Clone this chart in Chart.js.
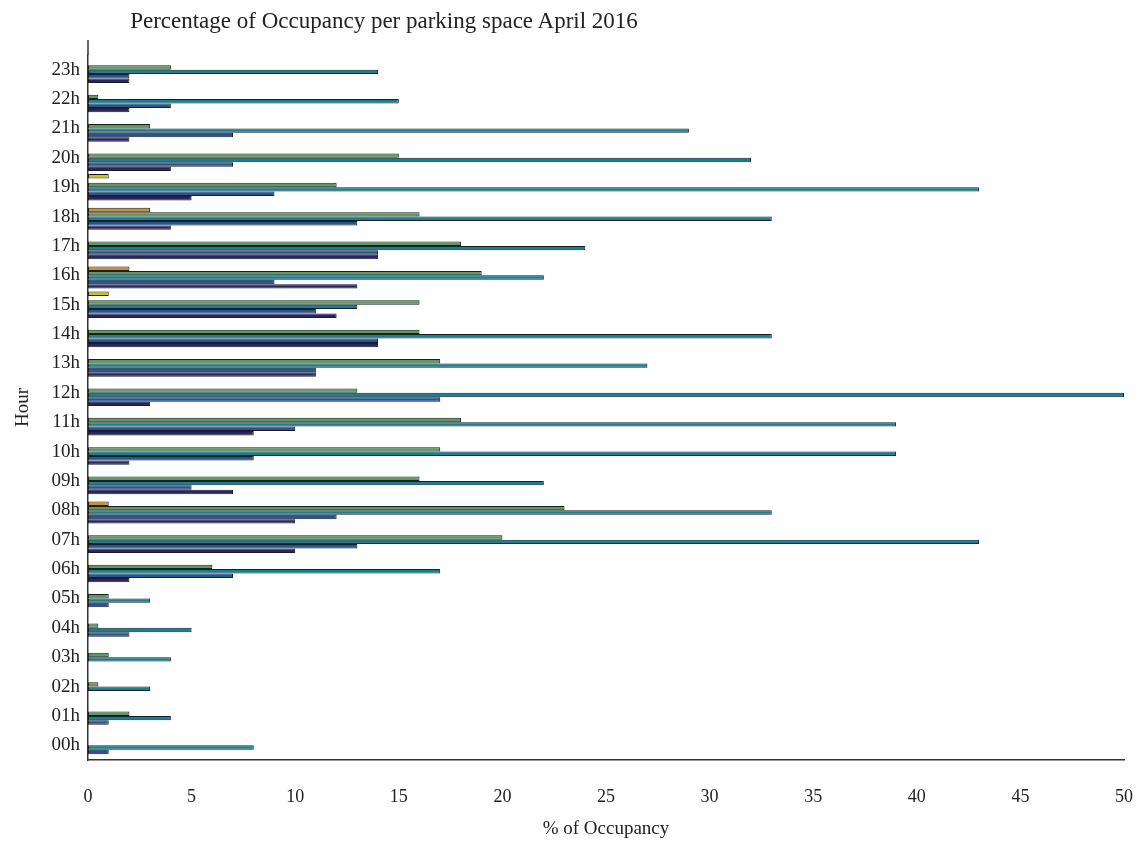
<!DOCTYPE html>
<html>
<head>
<meta charset="utf-8">
<script src="https://cdn.jsdelivr.net/npm/chart.js@4/dist/chart.umd.min.js"></script>
<style>
  html, body { margin: 0; padding: 0; background: #fff; }
  #wrap { position: relative; width: 1146px; height: 841px; }
  #title { position: absolute; left: 0; top: 8px; width: 768px; text-align: center;
           font-family: "Liberation Serif", serif; font-size: 23px; color: #222; }
</style>
</head>
<body>
<div id="wrap">
  <div id="title">Percentage of Occupancy per parking space April 2016</div>
  <canvas id="hbar" width="1146" height="841"></canvas>
</div>
<script>
// hours, bottom to top
const hours = ['00h', '01h', '02h', '03h', '04h', '05h', '06h', '07h', '08h', '09h', '10h', '11h',
               '12h', '13h', '14h', '15h', '16h', '17h', '18h', '19h', '20h', '21h', '22h', '23h'];

// % of occupancy per series
const serie1 = [0, 0, 0, 0, 0, 0, 2, 10, 10, 7, 2, 8, 3, 11, 14, 12, 13, 14, 4, 5, 4, 2, 2, 2];
const serie2 = [1, 1, 0, 0, 2, 1, 7, 13, 12, 5, 8, 10, 17, 11, 14, 11, 9, 14, 13, 9, 7, 7, 4, 2];
const serie3 = [8, 4, 3, 4, 5, 3, 17, 43, 33, 22, 39, 39, 50, 27, 33, 13, 22, 24, 33, 43, 32, 29, 15, 14];
const serie4 = [0, 2, 0.5, 1, 0.5, 1, 6, 20, 23, 16, 17, 18, 13, 17, 16, 16, 19, 18, 16, 12, 15, 3, 0.5, 4];
const serie5 = [0, 0, 0, 0, 0, 0, 0, 0, 1, 0, 0, 0, 0, 0, 0, 0, 2, 0, 3, 0, 0, 0, 0, 0];
const serie6 = [0, 0, 0, 0, 0, 0, 0, 0, 0, 0, 0, 0, 0, 0, 0, 1, 0, 0, 0, 1, 0, 0, 0, 0];

const xTicks = [0, 5, 10, 15, 20, 25, 30, 35, 40, 45, 50];

const serif = '"Liberation Serif", "DejaVu Serif", serif';

// draws the left spine a bit above the plot, like the original
const spine = {
    id: 'spine',
    afterDraw(chart) {
        const a = chart.chartArea;
        const c = chart.ctx;
        c.save();
        c.strokeStyle = '#333';
        c.lineWidth = 1.5;
        c.beginPath();
        c.moveTo(a.left, a.top - 15);
        c.lineTo(a.left, a.top);
        c.stroke();
        c.restore();
    }
};

const ctx = document.getElementById('hbar').getContext('2d');
const hbar = new Chart(ctx, {
    type: 'bar',
    data: {
        labels: hours,
        datasets: [
            { label: 'Serie 6', data: serie6, backgroundColor: 'rgb(205, 195, 30)' },   // amarelo
            { label: 'Serie 5', data: serie5, backgroundColor: 'rgb(200, 145, 50)' },   // laranja
            { label: 'Serie 4', data: serie4, backgroundColor: 'rgb(90, 155, 100)' },   // verde
            { label: 'Serie 3', data: serie3, backgroundColor: 'rgb(20, 130, 150)' },   // turquesa
            { label: 'Serie 2', data: serie2, backgroundColor: 'rgb(35, 85, 155)' },    // azul
            { label: 'Serie 1', data: serie1, backgroundColor: 'rgb(40, 35, 110)' }     // azul escuro
        ]
    },
    options: {
        indexAxis: 'y',
        responsive: false,
        animation: false,
        layout: { padding: { top: 55, right: 22, bottom: 0, left: 0 } },
        datasets: {
            bar: {
                borderColor: '#1e1e1e',
                borderWidth: 1,
                borderSkipped: false,
                categoryPercentage: 0.9,
                barPercentage: 1
            }
        },
        plugins: {
            legend: { display: false },
            tooltip: { enabled: false }
        },
        scales: {
            x: {
                type: 'linear',
                min: 0,
                max: 50,
                afterBuildTicks: (s) => { s.ticks = xTicks.map(v => ({ value: v })); },
                afterFit: (s) => { s.height = 81; s.paddingRight = 0; },
                grid: { display: false, drawTicks: false },
                border: { display: true, color: '#333', width: 1.5 },
                ticks: { color: '#222', padding: 26, font: { family: serif, size: 18 } },
                title: { display: true, text: '% of Occupancy', color: '#222',
                         padding: { top: 0, bottom: 1 }, font: { family: serif, size: 19 } }
            },
            y: {
                type: 'category',
                reverse: true,
                afterFit: (s) => { s.width = 88; },
                grid: { display: false, drawTicks: false },
                border: { display: true, color: '#333', width: 1.5 },
                ticks: { color: '#222', padding: 8, font: { family: serif, size: 19 } },
                title: { display: true, text: 'Hour', color: '#222',
                         padding: { top: 12, bottom: 0 }, font: { family: serif, size: 19 } }
            }
        }
    },
    plugins: [spine]
});
</script>
</body>
</html>
